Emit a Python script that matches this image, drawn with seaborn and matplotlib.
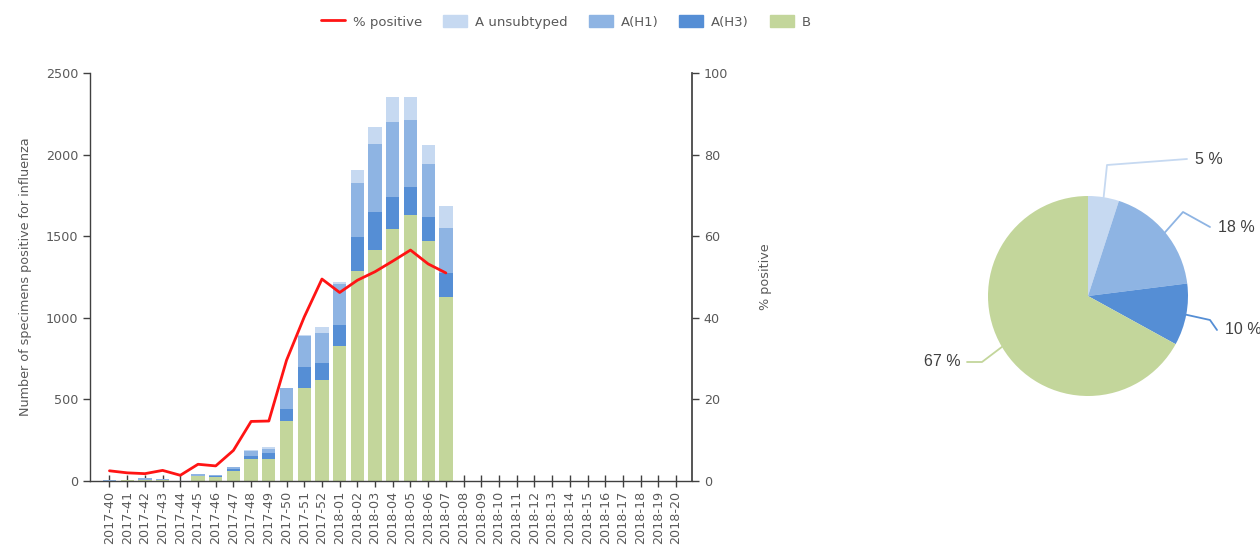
import numpy as np
import pandas as pd
import matplotlib
matplotlib.use("Agg")
import matplotlib.pyplot as plt
import seaborn as sns
from matplotlib.lines import Line2D
from matplotlib.patches import Patch

weeks = [f"2017-{w}" for w in range(40, 53)] + [f"2018-{w:02d}" for w in range(1, 21)]
B      = [2, 5, 5, 8, 0, 33, 25, 60, 137, 137, 366, 567, 618, 829, 1289, 1416, 1543, 1631, 1471, 1129]
A_H3   = [0, 0, 3, 0, 0, 0, 6, 15, 14, 35, 78, 133, 106, 127, 209, 235, 200, 168, 145, 143]
A_H1   = [3, 0, 10, 4, 0, 8, 6, 10, 33, 27, 123, 188, 184, 252, 327, 415, 454, 415, 327, 276]
A_uns  = [0, 0, 0, 0, 0, 0, 0, 0, 8, 10, 0, 6, 37, 14, 82, 102, 153, 137, 117, 137]
pct_pos = [2.5, 2.0, 1.8, 2.6, 1.4, 4.1, 3.7, 7.5, 14.6, 14.7, 29.6, 40.2, 49.5, 46.2, 49.2, 51.3, 53.9, 56.6, 53.2, 51.0]
pie_labels = ["A unsubtyped", "A(H1)", "A(H3)", "B"]
pie_pct = [5, 18, 10, 67]

colors = {"A unsubtyped": "#c6d9f1", "A(H1)": "#8eb4e3", "A(H3)": "#558ed5", "B": "#c3d69b"}
red = "#ff1414"
txt = "#595959"
spine_c = "#404040"

sns.set_theme(style="white")
plt.rcParams["font.family"] = ["DejaVu Sans"]

n = len(B)
pad = [0] * (len(weeks) - n)
l_B = np.array(B + pad, float)
l_H3 = l_B + np.array(A_H3 + pad, float)
l_H1 = l_H3 + np.array(A_H1 + pad, float)
l_U = l_H1 + np.array(A_uns + pad, float)

df = pd.DataFrame({"week": weeks, "U": l_U, "H1": l_H1, "H3": l_H3, "B": l_B})

fig = plt.figure(figsize=(12.6, 5.52), dpi=100)
ax = fig.add_axes([90 / 1260, 1 - 481 / 552, (692 - 90) / 1260, (481 - 73) / 552])

for col, name in [("U", "A unsubtyped"), ("H1", "A(H1)"), ("H3", "A(H3)"), ("B", "B")]:
    sns.barplot(data=df, x="week", y=col, order=weeks, color=colors[name],
                saturation=1, width=0.75, linewidth=0, ax=ax, errorbar=None)

fs = 9.2
ax.set_ylim(0, 2500)
ax.set_yticks([0, 500, 1000, 1500, 2000, 2500])
ax.set_xlim(-1.1, len(weeks) - 0.1)
ax.set_xticks(range(len(weeks)))
ax.set_xticklabels(weeks, rotation=90, fontsize=fs, color=txt)
ax.set_xlabel("")
ax.set_ylabel("Number of specimens positive for influenza", fontsize=fs, color=txt, labelpad=10)
ax.tick_params(axis="y", labelsize=fs, labelcolor=txt, length=5, width=1, color=spine_c, direction="out", left=True)
ax.tick_params(axis="x", length=8, width=1, color=spine_c, direction="inout", bottom=True, pad=3)
for s in ["left", "bottom"]:
    ax.spines[s].set_color(spine_c)
    ax.spines[s].set_linewidth(1)
ax.spines["top"].set_visible(False)
ax.spines["right"].set_visible(False)

ax2 = ax.twinx()
sns.lineplot(x=np.arange(n), y=pct_pos, color=red, linewidth=2, ax=ax2)
ax2.set_ylim(0, 100)
ax2.set_yticks([0, 20, 40, 60, 80, 100])
ax2.set_xlim(-1.1, len(weeks) - 0.1)
ax2.set_ylabel("% positive", fontsize=fs, color=txt, rotation=90, labelpad=22)
ax2.tick_params(axis="y", labelsize=fs, labelcolor=txt, length=5, width=1, color=spine_c, direction="out", right=True)
ax2.spines["right"].set_visible(True)
ax2.spines["right"].set_color(spine_c)
ax2.spines["top"].set_visible(False)
ax2.spines["left"].set_visible(False)
ax2.spines["bottom"].set_visible(False)

handles = [Line2D([0], [0], color=red, lw=2)] + [Patch(color=colors[k]) for k in pie_labels]
fig.legend(handles, ["% positive"] + pie_labels, loc="center", bbox_to_anchor=(566 / 1260, 1 - 22 / 552),
           ncol=5, frameon=False, fontsize=9.5, labelcolor=txt, handlelength=1.8, handleheight=1.0,
           columnspacing=1.6, handletextpad=0.6)

# Pie
axp = fig.add_axes([988 / 1260, 1 - 396 / 552, 200 / 1260, 200 / 552])
wedges, _ = axp.pie(pie_pct, colors=[colors[k] for k in pie_labels], startangle=90,
                    counterclock=False, radius=1, wedgeprops=dict(linewidth=0))
axp.set_xlim(-1, 1)
axp.set_ylim(-1, 1)
axp.axis("off")

elbows = [[(0.19, 1.31), (0.99, 1.37)],
          [(0.95, 0.84), (1.22, 0.69)],
          [(1.22, -0.24), (1.29, -0.34)],
          [(-1.06, -0.66), (-1.21, -0.66)]]
cum = 0
for i, (p, name) in enumerate(zip(pie_pct, pie_labels)):
    mid = np.deg2rad(90 - (cum + p / 2) * 3.6)
    cum += p
    x0, y0 = np.cos(mid), np.sin(mid)
    pts = [(x0, y0)] + elbows[i]
    xs, ys = zip(*pts)
    axp.plot(xs, ys, color=colors[name], lw=1.3, clip_on=False)
    ex, ey = elbows[i][-1]
    if ex > 0:
        axp.text(ex + 0.08, ey, f"{p} %", ha="left", va="center", fontsize=11.5,
                 color="#404040", family="Liberation Sans")
    else:
        axp.text(ex - 0.06, ey, f"{p} %", ha="right", va="center", fontsize=11.5,
                 color="#404040", family="Liberation Sans")

fig.savefig("out.png", dpi=100, facecolor="white")
